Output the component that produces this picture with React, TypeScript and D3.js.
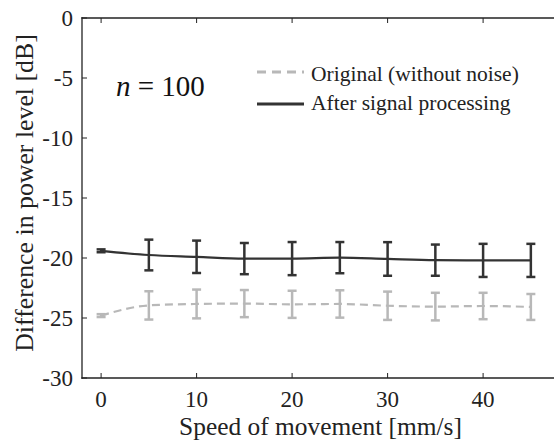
import { useEffect, useRef } from 'react';
import * as d3 from 'd3';

const speeds = [0, 5, 10, 15, 20, 25, 30, 35, 40, 45];
// After signal processing
const processedMean = [-19.4, -19.75, -19.9, -20.05, -20.05, -19.97, -20.08, -20.18, -20.2, -20.2];
const processedErr = [0.12, 1.28, 1.35, 1.3, 1.38, 1.3, 1.4, 1.3, 1.38, 1.38];
// Original (without noise)
const originalMean = [-24.8, -23.95, -23.83, -23.8, -23.86, -23.83, -23.98, -24.05, -24.0, -24.08];
const originalErr = [0.12, 1.18, 1.2, 1.13, 1.13, 1.14, 1.18, 1.15, 1.1, 1.08];

const xTicks = [0, 10, 20, 30, 40];
const yTicks = [0, -5, -10, -15, -20, -25, -30];

const W = 554;
const H = 444;
const FONT = 'Liberation Serif, serif';

export default function App() {
  const svgRef = useRef<SVGSVGElement>(null);

  useEffect(() => {
    const svg = d3.select(svgRef.current);
    svg.selectAll('*').remove();

    const left = 82, top = 18, bottom = 378;
    const x = d3.scaleLinear().domain([-2, 48]).range([left, left + 50 * 9.55]);
    const y = d3.scaleLinear().domain([-30, 0]).range([bottom, top]);

    const g = svg.append('g');

    // axis lines: left, top, bottom (the right side runs off the picture)
    [[left, top, W + 10, top], [left, bottom, W + 10, bottom], [left, top, left, bottom]].forEach(([x1, y1, x2, y2]) => {
      g.append('line').attr('x1', x1).attr('y1', y1).attr('x2', x2).attr('y2', y2)
        .attr('stroke', '#222').attr('stroke-width', 1.3).attr('stroke-linecap', 'square');
    });

    // ticks (inward)
    xTicks.forEach(t => {
      g.append('line').attr('x1', x(t)).attr('x2', x(t)).attr('y1', bottom).attr('y2', bottom - 5)
        .attr('stroke', '#222').attr('stroke-width', 1);
      g.append('line').attr('x1', x(t)).attr('x2', x(t)).attr('y1', top).attr('y2', top + 5)
        .attr('stroke', '#222').attr('stroke-width', 1);
      g.append('text').attr('x', x(t)).attr('y', 407)
        .attr('text-anchor', 'middle').style('font-family', FONT).attr('font-size', 23)
        .attr('fill', '#222').text(t);
    });
    yTicks.forEach(t => {
      g.append('line').attr('x1', left).attr('x2', left + 5).attr('y1', y(t)).attr('y2', y(t))
        .attr('stroke', '#222').attr('stroke-width', 1);
      g.append('text').attr('x', 73).attr('y', y(t)).attr('dy', '0.35em')
        .attr('text-anchor', 'end').style('font-family', FONT).attr('font-size', 23)
        .attr('fill', '#222').text(t);
    });

    // axis titles
    g.append('text').attr('x', 320.5).attr('y', 435)
      .attr('text-anchor', 'middle').style('font-family', FONT).attr('font-size', 25.4)
      .attr('fill', '#222').text('Speed of movement [mm/s]');
    g.append('text')
      .attr('transform', `translate(33,193) rotate(-90)`)
      .attr('text-anchor', 'middle').style('font-family', FONT).attr('font-size', 25.8)
      .attr('fill', '#222').text('Difference in power level [dB]');

    const series = [
      { mean: originalMean, err: originalErr, color: '#b8b8b8', dash: '8,5' },
      { mean: processedMean, err: processedErr, color: '#333333', dash: null },
    ];

    const line = d3.line<number>().x((_, i) => x(speeds[i])).y(d => y(d)).curve(d3.curveMonotoneX);

    series.forEach(s => {
      const path = g.append('path').datum(s.mean).attr('d', line)
        .attr('fill', 'none').attr('stroke', s.color).attr('stroke-width', 2.2);
      if (s.dash) path.attr('stroke-dasharray', s.dash);

      s.mean.forEach((m, i) => {
        const cx = x(speeds[i]);
        const y1 = y(m + s.err[i]);
        const y2 = y(m - s.err[i]);
        g.append('line').attr('x1', cx).attr('x2', cx).attr('y1', y1).attr('y2', y2)
          .attr('stroke', s.color).attr('stroke-width', 2.5);
        [y1, y2].forEach(yy => {
          g.append('line').attr('x1', cx - 4.5).attr('x2', cx + 4.5).attr('y1', yy).attr('y2', yy)
            .attr('stroke', s.color).attr('stroke-width', 2.5);
        });
      });
    });

    // annotation
    const ann = g.append('text').attr('x', 116).attr('y', 96)
      .style('font-family', FONT).attr('font-size', 29).attr('fill', '#111');
    ann.append('tspan').attr('font-style', 'italic').text('n');
    ann.append('tspan').text(' = 100');

    // legend
    const legend = [
      { label: 'Original (without noise)', color: '#b8b8b8', dash: '9,6', ly: 72, base: 81 },
      { label: 'After signal processing', color: '#333333', dash: null, ly: 104, base: 110 },
    ];
    legend.forEach(l => {
      const ln = g.append('line').attr('x1', 257).attr('x2', 304).attr('y1', l.ly).attr('y2', l.ly)
        .attr('stroke', l.color).attr('stroke-width', 3);
      if (l.dash) ln.attr('stroke-dasharray', l.dash);
      g.append('text').attr('x', 311).attr('y', l.base)
        .style('font-family', FONT).attr('font-size', 21.5).attr('fill', '#222').text(l.label);
    });
  }, []);

  return (
    <svg ref={svgRef} width={W} height={H}
      style={{ position: 'absolute', left: 0, top: 0, background: '#fff', overflow: 'hidden' }} />
  );
}
